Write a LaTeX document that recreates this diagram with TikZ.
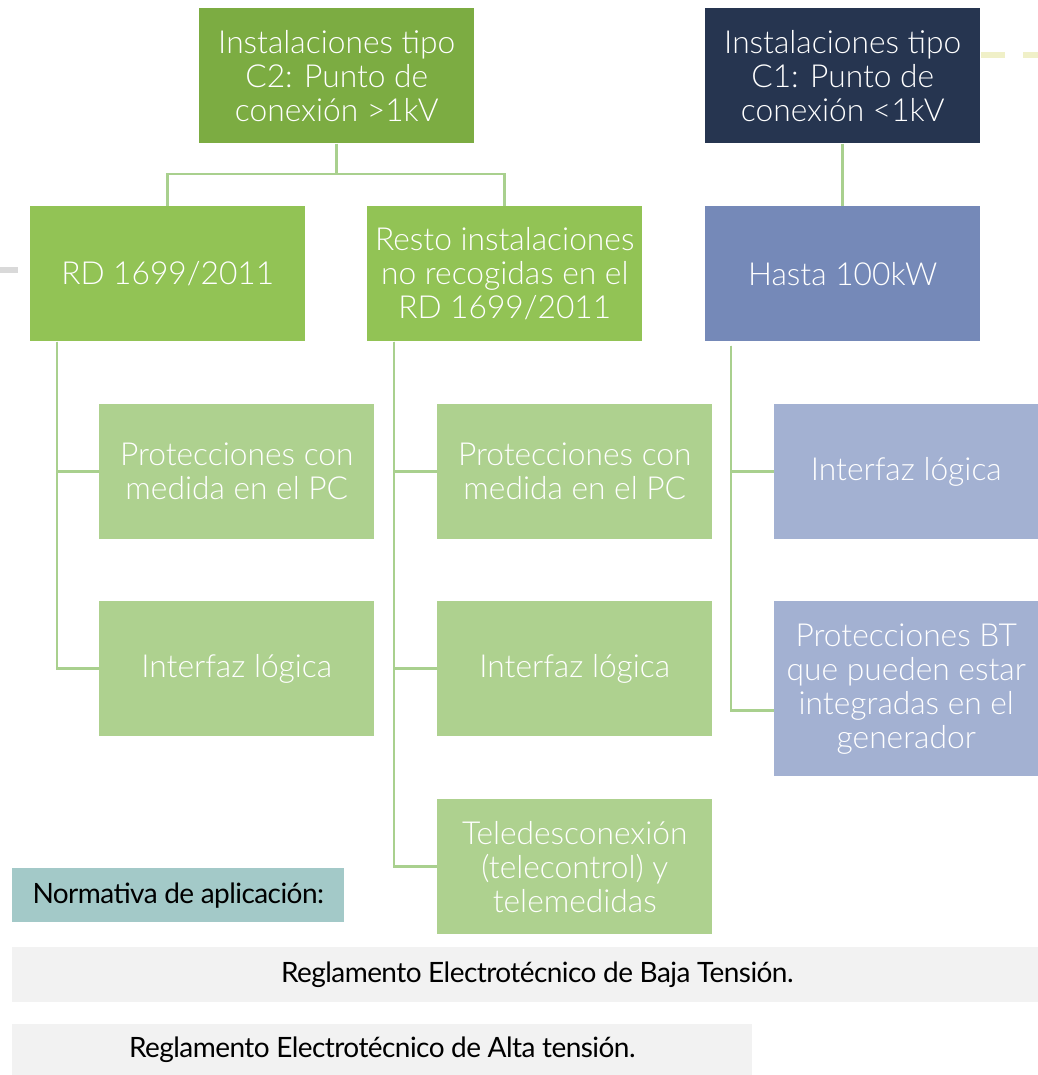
\documentclass[tikz,border=0pt]{standalone}
\usepackage{fontspec}
\setmainfont{Lato}
\newfontfamily\lightfont{Lato Light}
\newfontfamily\tightfont{Lato}[LetterSpace=-2]
\usetikzlibrary{calc}
\definecolor{cTwo}{RGB}{124,172,66}
\definecolor{lvlTwo}{RGB}{146,195,85}
\definecolor{lvlThree}{RGB}{174,209,143}
\definecolor{wire}{RGB}{169,208,142}
\definecolor{cOne}{RGB}{38,53,80}
\definecolor{blueTwo}{RGB}{117,137,184}
\definecolor{blueThree}{RGB}{163,177,210}
\definecolor{teal}{RGB}{163,201,200}
\definecolor{paleGray}{RGB}{242,242,242}
\definecolor{midGray}{RGB}{217,217,217}
\definecolor{paleYellow}{RGB}{240,240,200}
\begin{document}
\begin{tikzpicture}[x=0.75pt,y=-0.75pt,
  box/.style={anchor=north west,inner sep=0pt,text=white,align=center,
    minimum width=206.25pt,minimum height=101.25pt,
    font=\lightfont\fontsize{23.8}{25.5}\selectfont},
  conn/.style={draw=wire,line width=2.2pt},
  band/.style={anchor=north west,inner sep=0pt,fill=paleGray,
    font=\tightfont\fontsize{21}{24}\selectfont}]
\useasboundingbox[fill=white] (0,0) rectangle (1038,1075);

% decorative stubs at the edges
\draw[midGray,line width=4.5pt] (0,270) -- (18,270);
\draw[paleYellow,line width=4pt] (981,55) -- (1005,55) (1023,55) -- (1038,55);

% top level
\node[box,fill=cTwo] (c2) at (199,8) {Instalaciones tipo\\C2: Punto de\\conexión >1kV};
\node[box,fill=cOne] (c1) at (705,8) {Instalaciones tipo\\C1: Punto de\\conexión <1kV};

% second level
\node[box,fill=lvlTwo] (rd) at (30,206) {RD 1699/2011};
\node[box,fill=lvlTwo] (resto) at (367,206) {Resto instalaciones\\no recogidas en el\\RD 1699/2011};
\node[box,fill=blueTwo] (hasta) at (705,206) {Hasta 100kW};

% third level, left branch
\node[box,fill=lvlThree] (pa) at (99,404) {Protecciones con\\medida en el PC};
\node[box,fill=lvlThree] (ia) at (99,601) {Interfaz lógica};

% third level, middle branch
\node[box,fill=lvlThree] (pb) at (437,404) {Protecciones con\\medida en el PC};
\node[box,fill=lvlThree] (ib) at (437,601) {Interfaz lógica};
\node[box,fill=lvlThree] (tb) at (437,799) {Teledesconexión\\(telecontrol) y\\telemedidas};

% third level, right branch
\node[box,fill=blueThree,minimum width=198pt] (ic) at (774,404) {Interfaz lógica};
\node[box,fill=blueThree,minimum width=198pt,minimum height=131.25pt] (pc) at (774,601) {Protecciones BT\\que pueden estar\\integradas en el\\generador};

% connectors
\coordinate (j) at (c2.south |- 0,174);
\draw[conn] (c2.south) -- (j);
\draw[conn] (rd.north) |- (j) -| (resto.north);
\draw[conn] (c1.south) -- (hasta.north);

\draw[conn] ($(rd.south west)+(27,0)$) |- (pa.west);
\draw[conn] ($(rd.south west)+(27,0)$) |- (ia.west);
\draw[conn] ($(resto.south west)+(27,0)$) |- (pb.west);
\draw[conn] ($(resto.south west)+(27,0)$) |- (ib.west);
\draw[conn] ($(resto.south west)+(27,0)$) |- (tb.west);
\draw[conn] ($(hasta.south west)+(26,4)$) |- (ic.west);
\draw[conn] ($(hasta.south west)+(26,4)$) |- ($(pc.west)+(0,22)$);

% applicable regulations
\node[anchor=north west,inner sep=0pt,fill=teal,minimum width=249pt,minimum height=40.5pt,
  font=\tightfont\fontsize{21}{24}\selectfont] (norm) at (12,868) {Normativa de aplicación:};
\node[band,minimum width=769.5pt,minimum height=41.25pt] (baja) at (12,947)
  {\hspace{18pt}Reglamento Electrotécnico de Baja Tensión.};
\node[band,minimum width=555pt,minimum height=38.25pt] (alta) at (12,1024)
  {Reglamento Electrotécnico de Alta tensión.};
\end{tikzpicture}
\end{document}
